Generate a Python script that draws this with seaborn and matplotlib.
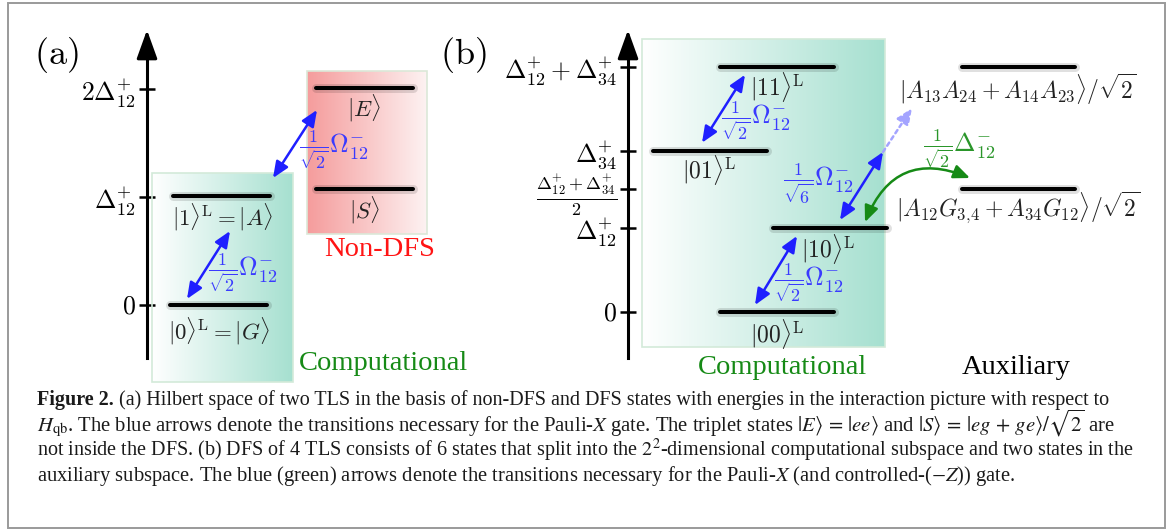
import numpy as np
import matplotlib
matplotlib.use("Agg")
import matplotlib.pyplot as plt
import seaborn as sns
from matplotlib.colors import LinearSegmentedColormap
from matplotlib.patches import Rectangle

sns.set_theme(style="white")
plt.rcParams["font.family"] = ["Liberation Serif", "DejaVu Serif"]
plt.rcParams["mathtext.fontset"] = "cm"

# ------------------------------------------------------------------ data
# Panel (a): two TLS, energies in units of Delta_12^+
A_STATES = ["G", "A", "E", "S"]
A_ENERGY = [0.0, 1.01, 2.01, 1.07]
A_LABELS = [r"$|0\rangle^{\rm L} = |G\rangle$", r"$|1\rangle^{\rm L} = |A\rangle$",
            r"$|E\rangle$", r"$|S\rangle$"]
A_TICKS = [0.0, 1.0, 2.0]
A_TICKLABELS = [r"$0$", r"$\Delta_{12}^{+}$", r"$2\Delta_{12}^{+}$"]

# Panel (b): four TLS, energies in units of Delta_12^+
D12 = 1.0
D34 = 1.92
B_STATES = ["00", "10", "01", "11", "aux1", "aux2"]
B_ENERGY = [0.0, D12, D34, D12 + D34, D12 + D34, (D12 + D34) / 2]
B_LABELS = [r"$|00\rangle^{\rm L}$", r"$|10\rangle^{\rm L}$", r"$|01\rangle^{\rm L}$",
            r"$|11\rangle^{\rm L}$", r"$|A_{13}A_{24} + A_{14}A_{23}\rangle/\sqrt{2}$",
            r"$|A_{12}G_{3,\!4} + A_{34}G_{12}\rangle/\sqrt{2}$"]
B_TICKS = [0.0, D12, (D12 + D34) / 2, D34, D12 + D34]
B_TICKLABELS = [r"$0$", r"$\Delta_{12}^{+}$", r"$\frac{\Delta_{12}^{+}+\Delta_{34}^{+}}{2}$",
                r"$\Delta_{34}^{+}$", r"$\Delta_{12}^{+} + \Delta_{34}^{+}$"]

OMEGA2 = r"$\frac{1}{\sqrt{2}}\Omega_{12}^{-}$"
OMEGA6 = r"$\frac{1}{\sqrt{6}}\Omega_{12}^{-}$"
DELTAM = r"$\frac{1}{\sqrt{2}}\Delta_{12}^{-}$"

CAPTION = [
    [("Figure 2.", "bold"), (" (a) Hilbert space of two TLS in the basis of non-DFS and DFS states with energies in the interaction picture with respect to", "normal")],
    [(r"$H_{\rm qb}$. The blue arrows denote the transitions necessary for the Pauli-$X$ gate. The triplet states $|E\rangle\, =\, |ee\rangle$ and $|S\rangle\, =\, |eg\, +\, ge\rangle/\sqrt{2}$ are", "normal")],
    [(r"not inside the DFS. (b) DFS of 4 TLS consists of 6 states that split into the $2^2$-dimensional computational subspace and two states in the", "normal")],
    [(r"auxiliary subspace. The blue (green) arrows denote the transitions necessary for the Pauli-$X$ (and controlled-($-Z$)) gate.", "normal")],
]

# ------------------------------------------------------------------ layout
W, H, DPI = 1171, 531, 100
fig = plt.figure(figsize=(W / DPI, H / DPI), dpi=DPI)
fig.patch.set_facecolor("white")

PANEL_TOP, PANEL_BOT = 0, 390  # pixel rows covered by the diagram axes

BLUE = "#1f1fff"
BLUE_T = "#3a3aff"
GREEN = "#168a16"
RED = "#ff1414"


def make_axes(x0, x1, zero_px, unit_px):
    ax = fig.add_axes([x0 / W, (H - PANEL_BOT) / H, (x1 - x0) / W, (PANEL_BOT - PANEL_TOP) / H])
    ax.set_xlim(x0, x1)
    ax.set_ylim((zero_px - PANEL_BOT) / unit_px, (zero_px - PANEL_TOP) / unit_px)
    ax.patch.set_visible(False)
    for s in ["top", "right", "bottom"]:
        ax.spines[s].set_visible(False)
    ax.set_xticks([])
    return ax, (lambda y: (zero_px - y) / unit_px)


def grad_box(ax, x0, x1, e0, e1, colors, edge):
    cmap = LinearSegmentedColormap.from_list("g", colors)
    g = np.linspace(0, 1, 256).reshape(1, -1)
    ax.imshow(g, extent=(x0, x1, e0, e1), aspect="auto", cmap=cmap, origin="lower",
              interpolation="bilinear", zorder=0.5)
    ax.add_patch(Rectangle((x0, e0), x1 - x0, e1 - e0, fill=False, edgecolor=edge, lw=1.2, zorder=0.6))


def level(ax, x0, x1, e):
    ax.plot([x0, x1], [e, e], color="black", lw=6.5, alpha=0.12, solid_capstyle="round", zorder=3)
    ax.plot([x0, x1], [e, e], color="black", lw=2.9, solid_capstyle="round", zorder=3.1)


def arrow(ax, p0, p1, color, style="<|-|>", ls="-", lw=1.8, rad=0.0):
    ax.annotate("", xy=p1, xytext=p0,
                arrowprops=dict(arrowstyle=f"{style},head_length=0.75,head_width=0.32",
                                color=color, lw=lw, ls=ls, mutation_scale=13,
                                shrinkA=0, shrinkB=0,
                                connectionstyle=f"arc3,rad={rad}"), zorder=4)


def energy_axis(ax, xpos, e_bot, e_tip, ticks, labels, labelsize):
    sp = ax.spines["left"]
    sp.set_position(("data", xpos))
    sp.set_linewidth(2.2)
    sp.set_color("black")
    sp.set_bounds(e_bot, e_tip - 0.12)
    ax.set_yticks(ticks, labels=labels)
    ax.tick_params(axis="y", left=True, direction="inout", length=12, width=1.8,
                   labelsize=labelsize, pad=2, colors="black")
    ax.annotate("", xy=(xpos, e_tip), xytext=(xpos, e_tip - 0.2),
                arrowprops=dict(arrowstyle="-|>,head_length=1.25,head_width=0.45",
                                color="black", lw=2.2, mutation_scale=14, shrinkA=0, shrinkB=0),
                annotation_clip=False)


# ------------------------------------------------------------------ panel (a)
ax_a, ya = make_axes(8, 440, 305, 108)
E = dict(zip(A_STATES, A_ENERGY))
grad_box(ax_a, 152, 293, ya(382), ya(173), ["#ffffff", "#a6e0d0"], "#d3ead9")
grad_box(ax_a, 307, 427, ya(234), ya(71), ["#f59c9c", "#fdf2f2"], "#dbe8d8")
energy_axis(ax_a, 147, ya(358), ya(30), A_TICKS, A_TICKLABELS, 18.5)

a_xspan = {"G": (170, 267), "A": (173, 270), "E": (316, 413), "S": (316, 413)}
a_label_pos = {"G": (219, ya(331)), "A": (223, ya(217)), "E": (364, ya(108)), "S": (364, ya(210))}
for s, lab in zip(A_STATES, A_LABELS):
    level(ax_a, *a_xspan[s], E[s])
    ax_a.text(*a_label_pos[s], lab, ha="center", va="center", fontsize=16.5, color="#222222", zorder=5)

arrow(ax_a, (187, E["G"] + 0.056), (230, E["A"] - 0.325), BLUE)
arrow(ax_a, (273, E["A"] + 0.166), (317, E["E"] - 0.204), BLUE)
ax_a.text(243, ya(273), OMEGA2, ha="center", va="center", fontsize=18.5, color=BLUE_T, zorder=5)
ax_a.text(334, ya(150), OMEGA2, ha="center", va="center", fontsize=18.5, color=BLUE_T, zorder=5)

ax_a.text(56, ya(55), r"$\mathrm{(a)}$", ha="center", va="center", fontsize=26, color="black")
ax_a.text(380, ya(249), "Non-DFS", ha="center", va="center", fontsize=20.5, color=RED)
ax_a.text(383, ya(363), "Computational", ha="center", va="center", fontsize=20.5, color=GREEN)

# ------------------------------------------------------------------ panel (b)
ax_b, yb = make_axes(440, 1165, 312, 84)
Eb = dict(zip(B_STATES, B_ENERGY))
grad_box(ax_b, 642, 885, yb(347), yb(39), ["#ffffff", "#a6e0d0"], "#d3ead9")
energy_axis(ax_b, 628, yb(358), yb(30), B_TICKS, B_TICKLABELS, 18.5)

b_xspan = {"00": (720, 834), "10": (773, 887), "01": (653, 767), "11": (720, 834),
           "aux1": (962, 1075), "aux2": (962, 1075)}
b_label_pos = {"00": (777, yb(334)), "10": (828, yb(249)), "01": (709, yb(170)),
               "11": (777, yb(87)), "aux1": (1018, yb(89)), "aux2": (1018, yb(208))}
for s, lab in zip(B_STATES, B_LABELS):
    level(ax_b, *b_xspan[s], Eb[s])
    ax_b.text(*b_label_pos[s], lab, ha="center", va="center", fontsize=17, color="#222222", zorder=5)

arrow(ax_b, (755, Eb["00"] + 0.083), (797, Eb["10"] - 0.095), BLUE)
arrow(ax_b, (702, Eb["01"] + 0.095), (745, Eb["11"] - 0.096), BLUE)
arrow(ax_b, (840, Eb["10"] + 0.095), (883, yb(152)), BLUE)
arrow(ax_b, (883, yb(152)), (912, yb(108)), "#a4a4ff", style="-|>", ls=(0, (1.5, 1.5)), lw=1.8)
arrow(ax_b, (865, Eb["10"] + 0.07), (970, Eb["aux2"] + 0.135), GREEN, rad=-0.5)

ax_b.text(756, yb(121), OMEGA2, ha="center", va="center", fontsize=18.5, color=BLUE_T, zorder=5)
ax_b.text(809, yb(283), OMEGA2, ha="center", va="center", fontsize=18.5, color=BLUE_T, zorder=5)
ax_b.text(818, yb(184), OMEGA6, ha="center", va="center", fontsize=18.5, color=BLUE_T, zorder=5)
ax_b.text(959, yb(149), DELTAM, ha="center", va="center", fontsize=18.5, color="#2a962a", zorder=5)

ax_b.text(463, yb(55), r"$\mathrm{(b)}$", ha="center", va="center", fontsize=26, color="black")
ax_b.text(782, yb(367), "Computational", ha="center", va="center", fontsize=20.5, color=GREEN)
ax_b.text(1016, yb(367), "Auxiliary", ha="center", va="center", fontsize=20.5, color="black")

# ------------------------------------------------------------------ frame + caption
fig.add_artist(Rectangle((8 / W, (H - 528) / H), (1165 - 8) / W, (528 - 3) / H,
                         transform=fig.transFigure, fill=False, edgecolor="#9a9a9a", lw=1.4))

renderer = fig.canvas.get_renderer()
CAP_X0 = 37
CAP_RIGHT = [1108, 1115, 1133, 1012]
CAP_BASE = [405, 431, 456, 481]


def draw_caption_line(parts, x0, ybase, size):
    arts = []
    x = x0
    for txt, wt in parts:
        t = fig.text(x / W, (H - ybase) / H, txt, fontsize=size, fontweight=wt, va="baseline",
                     ha="left", color="#1a1a1a", math_fontfamily="stix",
                     family=["Liberation Serif", "DejaVu Serif"])
        bb = t.get_window_extent(renderer)
        x = bb.x1
        arts.append(t)
    return arts, x - x0


for parts, yb_, rt in zip(CAPTION, CAP_BASE, CAP_RIGHT):
    arts, wdt = draw_caption_line(parts, CAP_X0, yb_, 12)
    for a in arts:
        a.remove()
    size = 12 * (rt - CAP_X0) / wdt
    draw_caption_line(parts, CAP_X0, yb_, size)

fig.savefig("out.png", dpi=DPI, facecolor="white")
